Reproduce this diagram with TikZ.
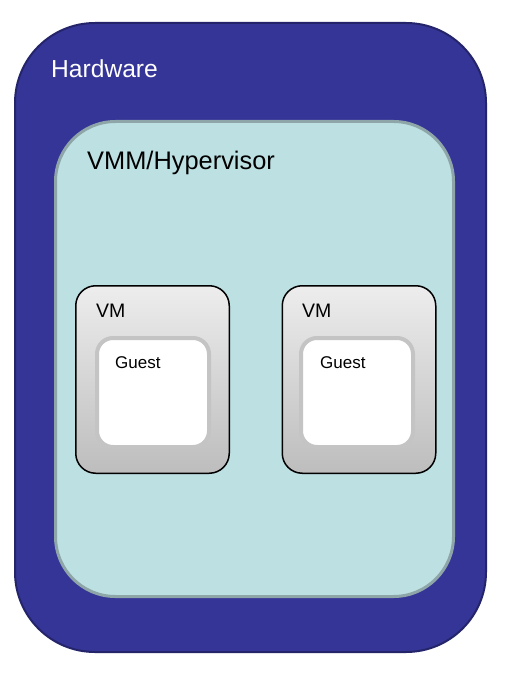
\documentclass[tikz,border=0pt]{standalone}
\usepackage{fontspec}
\setmainfont{Liberation Sans}
\definecolor{hwfill}{HTML}{353597}
\definecolor{hwline}{HTML}{24246B}
\definecolor{hvfill}{HTML}{BDE0E3}
\definecolor{hvline}{HTML}{8FA6A8}
\definecolor{vmtop}{HTML}{EDEDED}
\definecolor{vmbot}{HTML}{BDBDBD}
\definecolor{gline}{HTML}{C4C4C4}
\begin{document}
\begin{tikzpicture}[x=1pt,y=-1pt,
  hwbox/.style={draw=hwline, line width=2pt, fill=hwfill, rounded corners=80pt, inner sep=0pt},
  hvbox/.style={draw=hvline, line width=3pt, fill=hvfill, rounded corners=60pt, inner sep=0pt},
  vmbox/.style={draw=black, line width=1.5pt, top color=vmtop, bottom color=vmbot, rounded corners=20pt, inner sep=0pt, minimum width=153.5pt, minimum height=187.5pt},
  guestbox/.style={draw=gline, line width=4pt, fill=white, rounded corners=16pt, inner sep=0pt, minimum width=112pt, minimum height=109pt},
  lbl/.style={anchor=base west, inner sep=0pt}
]
\useasboundingbox (0,0) rectangle (506,684);
\fill[white] (0,0) rectangle (506,684);
\node[hwbox, minimum width=471pt, minimum height=629pt] (hw) at (250.5,337.5) {};
\node[hvbox, minimum width=398pt, minimum height=475pt] (hv) at (254.5,359) {};
\node[vmbox] (vm1) at (152.5,379.5) {};
\node[vmbox] (vm2) at (359,379.5) {};
\node[guestbox] (g1) at (153,392.5) {};
\node[guestbox] (g2) at (357,392.5) {};
\node[lbl, text=white, font=\fontsize{24.6}{28}\selectfont] (hwt) at (51,78) {Hardware};
\node[lbl, font=\fontsize{25.4}{30}\selectfont] (hvt) at (87,170) {VMM/Hypervisor};
\node[lbl, font=\fontsize{19.5}{22}\selectfont] (vm1t) at (96,317) {VM};
\node[lbl, font=\fontsize{17}{20}\selectfont] (g1t) at (115,368) {Guest};
\node[lbl, font=\fontsize{19.5}{22}\selectfont] (vm2t) at (302,317) {VM};
\node[lbl, font=\fontsize{17}{20}\selectfont] (g2t) at (320,368) {Guest};
\end{tikzpicture}
\end{document}
